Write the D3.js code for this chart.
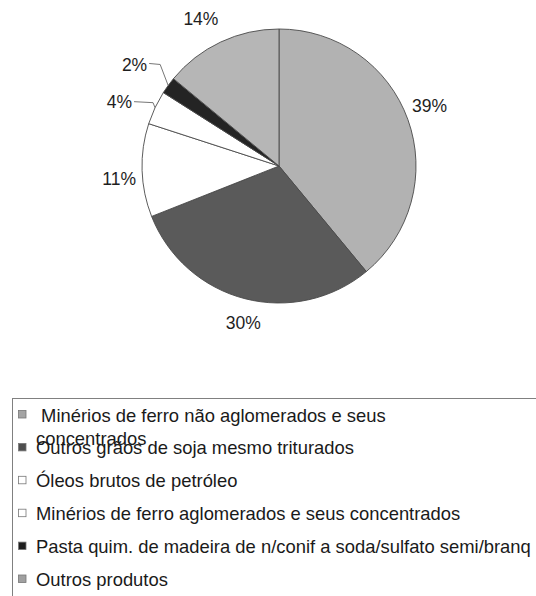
<!DOCTYPE html>
<html>
<head>
<meta charset="utf-8">
<script src="https://cdn.jsdelivr.net/npm/d3@7"></script>
<style>
  html, body { margin: 0; padding: 0; background: #fff; overflow: hidden; }
  svg { display: block; font-family: "Liberation Sans", Arial, sans-serif; }
  text { white-space: pre; }
</style>
</head>
<body>
<svg id="chart" width="536" height="596"></svg>
<script>
// Export share by product (percent)
const products = [
  " Minérios de ferro não aglomerados e seus\nconcentrados",
  "Outros grãos de soja mesmo triturados",
  "Óleos brutos de petróleo",
  "Minérios de ferro aglomerados e seus concentrados",
  "Pasta quim. de madeira de n/conif a soda/sulfato semi/branq",
  "Outros produtos"
];
const shares = [39, 30, 11, 4, 2, 14];
const fills = ["#b2b2b2", "#5a5a5a", "#ffffff", "#ffffff", "#242424", "#b6b6b6"];
const swatchFills = ["#a4a4a4", "#4e4e4e", "#ffffff", "#ffffff", "#1e1e1e", "#a0a0a0"];

const svg = d3.select("#chart");
const cx = 279, cy = 166, R = 137;

const pie = d3.pie().sort(null).value(d => d)(shares);
const arc = d3.arc().innerRadius(0).outerRadius(R);

const g = svg.append("g").attr("transform", `translate(${cx},${cy})`);
g.selectAll("path.slice")
  .data(pie)
  .join("path")
  .attr("class", "slice")
  .attr("d", arc)
  .attr("fill", (d, i) => fills[i])
  .attr("stroke", "#4a4a4a")
  .attr("stroke-width", 0.9)
  .attr("stroke-linejoin", "round");

// Percent labels: larger slices sit on a ring outside the pie,
// the two thin slices get leader lines out to the left.
const labelArc = d3.arc().innerRadius(160).outerRadius(160);
const edgeArc = d3.arc().innerRadius(R).outerRadius(R);
const nudge = [[0, -6], [4, 2], [0, 8], null, null, [-10, -2]];
const leader = [null, null, null,
  { elbow: [-2, -5], label: [-23, -6] },
  { elbow: [-8, -21], label: [-21, -20] },
  null];

pie.forEach((d, i) => {
  const txt = shares[i] + "%";
  if (leader[i]) {
    const p = edgeArc.centroid(d);
    const e = [p[0] + leader[i].elbow[0], p[1] + leader[i].elbow[1]];
    const l = [p[0] + leader[i].label[0], p[1] + leader[i].label[1]];
    g.append("path")
      .attr("d", d3.line()([p, e, [l[0] + 2, e[1] - 1]]))
      .attr("fill", "none")
      .attr("stroke", "#666")
      .attr("stroke-width", 0.9);
    g.append("text")
      .attr("x", l[0]).attr("y", l[1])
      .attr("text-anchor", "end")
      .attr("dominant-baseline", "central")
      .attr("font-size", 17.5)
      .attr("fill", "#1e1e1e")
      .text(txt);
  } else {
    const c = labelArc.centroid(d);
    g.append("text")
      .attr("x", c[0] + nudge[i][0]).attr("y", c[1] + nudge[i][1])
      .attr("text-anchor", "middle")
      .attr("dominant-baseline", "central")
      .attr("font-size", 17.5)
      .attr("fill", "#1e1e1e")
      .text(txt);
  }
});

// Legend box (runs off the right and bottom edges)
svg.append("rect")
  .attr("x", 12.5).attr("y", 398.5)
  .attr("width", 620).attr("height", 300)
  .attr("fill", "none")
  .attr("stroke", "#808080")
  .attr("stroke-width", 1);

const rowY = d3.scalePoint().domain(d3.range(products.length)).range([421.5, 586]);
const leg = svg.append("g");
products.forEach((name, i) => {
  const y = rowY(i);
  leg.append("rect")
    .attr("x", 18.5).attr("y", y - 11)
    .attr("width", 7.5).attr("height", 7.5)
    .attr("fill", swatchFills[i])
    .attr("stroke", "#777")
    .attr("stroke-width", 0.8);
  const lines = name.split("\n");
  lines.forEach((ln, k) => {
    leg.append("text")
      .attr("x", 36).attr("y", y + k * 23.5)
      .attr("font-size", 18.4)
      .attr("fill", "#1a1a1a")
      .text(ln);
  });
});
</script>
</body>
</html>
